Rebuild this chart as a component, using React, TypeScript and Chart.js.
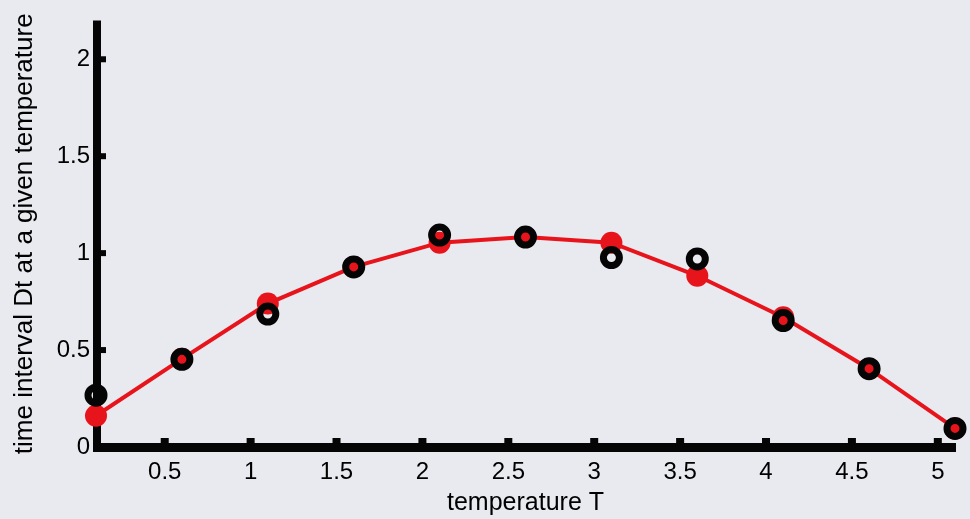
import React, { useEffect, useRef } from "react";
import { Chart, registerables } from "chart.js";

Chart.register(...registerables);

// Temperatures at which the interval was sampled
const temperatures = [0.1, 0.6, 1.1, 1.6, 2.1, 2.6, 3.1, 3.6, 4.1, 4.6, 5.1];
// Measured values (black rings)
const measured = [0.267, 0.452, 0.686, 0.929, 1.093, 1.083, 0.977, 0.97, 0.652, 0.404, 0.096];
// Model values (red dots + red line)
const model = [0.161, 0.455, 0.74, 0.929, 1.054, 1.083, 1.054, 0.883, 0.669, 0.404, 0.096];
// Tick values and labels
const xTicks = [0.5, 1, 1.5, 2, 2.5, 3, 3.5, 4, 4.5, 5];
const xTickLabels = ["0.5", "1", "1.5", "2", "2.5", "3", "3.5", "4", "4.5", "5"];
const yTicks = [0, 0.5, 1, 1.5, 2];
const yTickLabels = ["0", "0.5", "1", "1.5", "2"];

const FONT = "'Liberation Sans', Arial, Helvetica, sans-serif";

const axesPlugin = {
  id: "matlabAxes",
  beforeDatasetsDraw(chart: any) {
    const { ctx, chartArea, scales } = chart;
    const { left, right, top, bottom } = chartArea;
    const xs = scales.x;
    const ys = scales.y;
    ctx.save();
    ctx.fillStyle = "#050505";
    // y axis line
    ctx.fillRect(left - 3, top, 8, bottom + 5 - top);
    // x axis line
    ctx.fillRect(left - 3, bottom - 4, right + 1 - (left - 3), 9);
    // inward ticks on y axis
    yTicks.forEach((v) => {
      const py = ys.getPixelForValue(v);
      ctx.fillRect(left + 5, py - 3, 5, 6);
    });
    // inward ticks on x axis
    xTicks.forEach((v) => {
      const px = xs.getPixelForValue(v);
      ctx.fillRect(px - 4, bottom - 9, 8, 5);
    });
    ctx.restore();
  },
};

export default function App() {
  const canvasRef = useRef<HTMLCanvasElement | null>(null);

  useEffect(() => {
    document.body.style.margin = "0";
    document.body.style.background = "#e8eaef";
    const canvas = canvasRef.current;
    if (!canvas) return;

    const chart = new Chart(canvas, {
      type: "scatter",
      data: {
        datasets: [
          {
            label: "measured",
            data: temperatures.map((t, i) => ({ x: t, y: measured[i] })),
            showLine: false,
            pointRadius: 8,
            pointBorderWidth: 7,
            pointBorderColor: "#050505",
            pointBackgroundColor: "rgba(0,0,0,0)",
            clip: false as any,
          },
          {
            label: "model",
            data: temperatures.map((t, i) => ({ x: t, y: model[i] })),
            showLine: true,
            borderColor: "#e8141c",
            borderWidth: 4,
            tension: 0,
            pointRadius: 11,
            pointBorderWidth: 0,
            pointBackgroundColor: "#e8141c",
            clip: false as any,
          },
        ],
      },
      plugins: [axesPlugin],
      options: {
        animation: false,
        responsive: true,
        maintainAspectRatio: false,
        events: [],
        layout: { padding: { left: 0, right: 5.5, top: 20.5, bottom: 0 } },
        plugins: {
          legend: { display: false },
          tooltip: { enabled: false },
        },
        scales: {
          x: {
            type: "linear",
            min: 0.1,
            max: 5.1,
            grid: { display: false, drawTicks: false },
            border: { display: false },
            afterBuildTicks: (scale: any) => {
              scale.ticks = xTicks.map((v) => ({ value: v }));
            },
            afterFit: (scale: any) => {
              scale.height = 72;
            },
            ticks: {
              padding: 11,
              color: "#000",
              font: { family: FONT, size: 24 },
              maxRotation: 0,
              autoSkip: false,
              callback: (v: any) => {
                const i = xTicks.indexOf(Number(v));
                return i >= 0 ? xTickLabels[i] : "";
              },
            },
            title: {
              display: true,
              text: "temperature T",
              color: "#000",
              font: { family: FONT, size: 25 },
              padding: { top: 0, bottom: 1 },
            },
          },
          y: {
            type: "linear",
            min: 0,
            max: 2.2,
            grid: { display: false, drawTicks: false },
            border: { display: false },
            afterBuildTicks: (scale: any) => {
              scale.ticks = yTicks.map((v) => ({ value: v }));
            },
            afterFit: (scale: any) => {
              scale.width = 96;
            },
            ticks: {
              padding: 6,
              color: "#000",
              font: { family: FONT, size: 24 },
              autoSkip: false,
              callback: (v: any) => {
                const i = yTicks.indexOf(Number(v));
                return i >= 0 ? yTickLabels[i] : "";
              },
            },
            title: {
              display: true,
              text: "time interval Dt at a given temperature",
              color: "#000",
              font: { family: FONT, size: 26 },
              padding: { top: 9, bottom: 0 },
            },
          },
        },
      },
    });

    return () => chart.destroy();
  }, []);

  return (
    <div style={{ width: 970, height: 519, position: "relative", background: "#e8eaef" }}>
      <canvas ref={canvasRef} />
    </div>
  );
}
